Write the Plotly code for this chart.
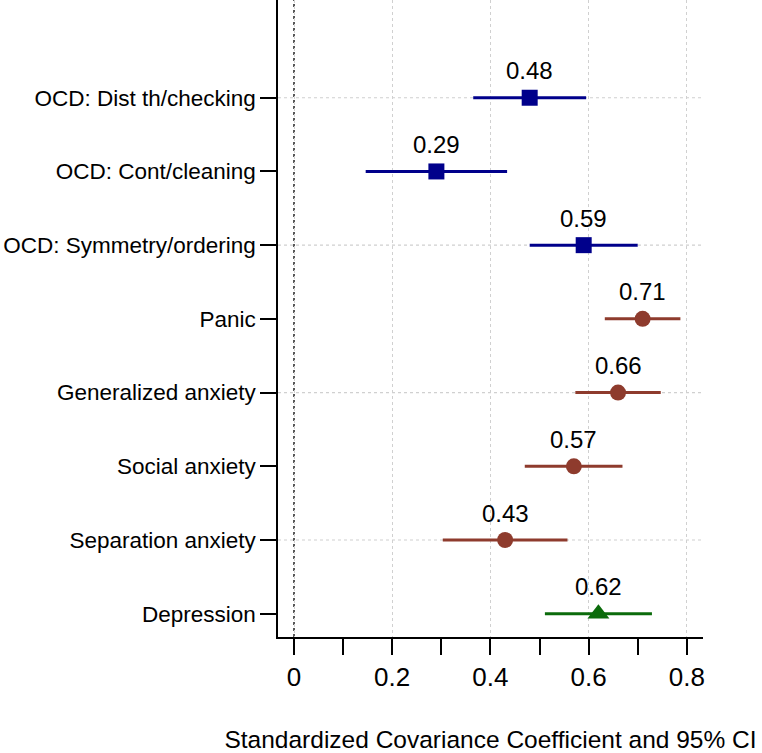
import plotly.graph_objects as go

categories = ["OCD: Dist th/checking", "OCD: Cont/cleaning", "OCD: Symmetry/ordering",
              "Panic", "Generalized anxiety", "Social anxiety", "Separation anxiety", "Depression"]
estimates = [0.48, 0.29, 0.59, 0.71, 0.66, 0.57, 0.43, 0.62]
ci_low = [0.365, 0.146, 0.480, 0.633, 0.573, 0.470, 0.303, 0.511]
ci_high = [0.595, 0.434, 0.700, 0.787, 0.747, 0.669, 0.557, 0.729]
groups = ["ocd", "ocd", "ocd", "anx", "anx", "anx", "anx", "dep"]
x_ticks = [0, 0.2, 0.4, 0.6, 0.8]
x_tick_text = ["0", "0.2", "0.4", "0.6", "0.8"]
x_minor_ticks = [0.1, 0.3, 0.5, 0.7]
grid_rows = ["OCD: Dist th/checking", "OCD: Symmetry/ordering", "Generalized anxiety", "Separation anxiety"]

colors = {"ocd": "#00008B", "anx": "#8E3B2D", "dep": "#0B6B0B"}
symbols = {"ocd": "square", "anx": "circle", "dep": "triangle-up"}
sizes = {"ocd": 16, "anx": 16, "dep": 19}

n = len(categories)
ypos = {c: n - i for i, c in enumerate(categories)}

fig = go.Figure()
FONT = "Liberation Sans, Arial, Helvetica, sans-serif"

for c, e, lo, hi, g in zip(categories, estimates, ci_low, ci_high, groups):
    y = ypos[c]
    fig.add_trace(go.Scatter(x=[lo, hi], y=[y, y], mode="lines",
                             line=dict(color=colors[g], width=3), showlegend=False,
                             hoverinfo="skip"))
    fig.add_trace(go.Scatter(x=[e], y=[y], mode="markers",
                             marker=dict(symbol=symbols[g], size=sizes[g], color=colors[g],
                                         line=dict(width=0)),
                             showlegend=False))
    fig.add_annotation(x=e, y=y, text=f"{e:.2f}", showarrow=False, yanchor="middle",
                       yshift=27, font=dict(size=24, color="black", family=FONT))

for c in grid_rows:
    fig.add_shape(type="line", xref="paper", x0=0, x1=1, yref="y", y0=ypos[c], y1=ypos[c],
                  line=dict(color="#d0d0d0", width=1.2, dash="dot"), layer="below")

fig.add_shape(type="line", xref="x", x0=0, x1=0, yref="paper", y0=0, y1=1,
              line=dict(color="#222222", width=1.5, dash="dot"), layer="below")

fig.update_layout(
    width=762, height=753,
    margin=dict(l=278, r=59, t=0, b=116),
    plot_bgcolor="white", paper_bgcolor="white",
    font=dict(family=FONT, color="black"),
    xaxis=dict(range=[-0.0326, 0.833], tickvals=x_ticks, ticktext=x_tick_text,
               automargin=False,
               showgrid=True, gridcolor="#d0d0d0", griddash="dot", gridwidth=1.2,
               zeroline=False, showline=True, linecolor="black", linewidth=1.5,
               ticks="outside", ticklen=16, tickwidth=1.5, tickcolor="black",
               tickfont=dict(size=26),
               minor=dict(tickvals=x_minor_ticks, ticks="outside", ticklen=16,
                          tickwidth=1.5, tickcolor="black", showgrid=False),
               title=dict(text="Standardized Covariance Coefficient and 95% CI",
                          font=dict(size=24.5), standoff=42)),
    yaxis=dict(range=[0.684, 9.326], tickvals=[ypos[c] for c in categories],
               ticktext=categories, showgrid=False, zeroline=False, automargin=False,
               showline=True, linecolor="black", linewidth=1.5,
               ticks="outside", ticklen=16, tickwidth=1.5, tickcolor="black",
               tickfont=dict(size=22.5)),
)

fig.write_html("out.html", config={"displayModeBar": False},
               post_script="document.body.style.margin='0';document.body.style.overflow='hidden';")
